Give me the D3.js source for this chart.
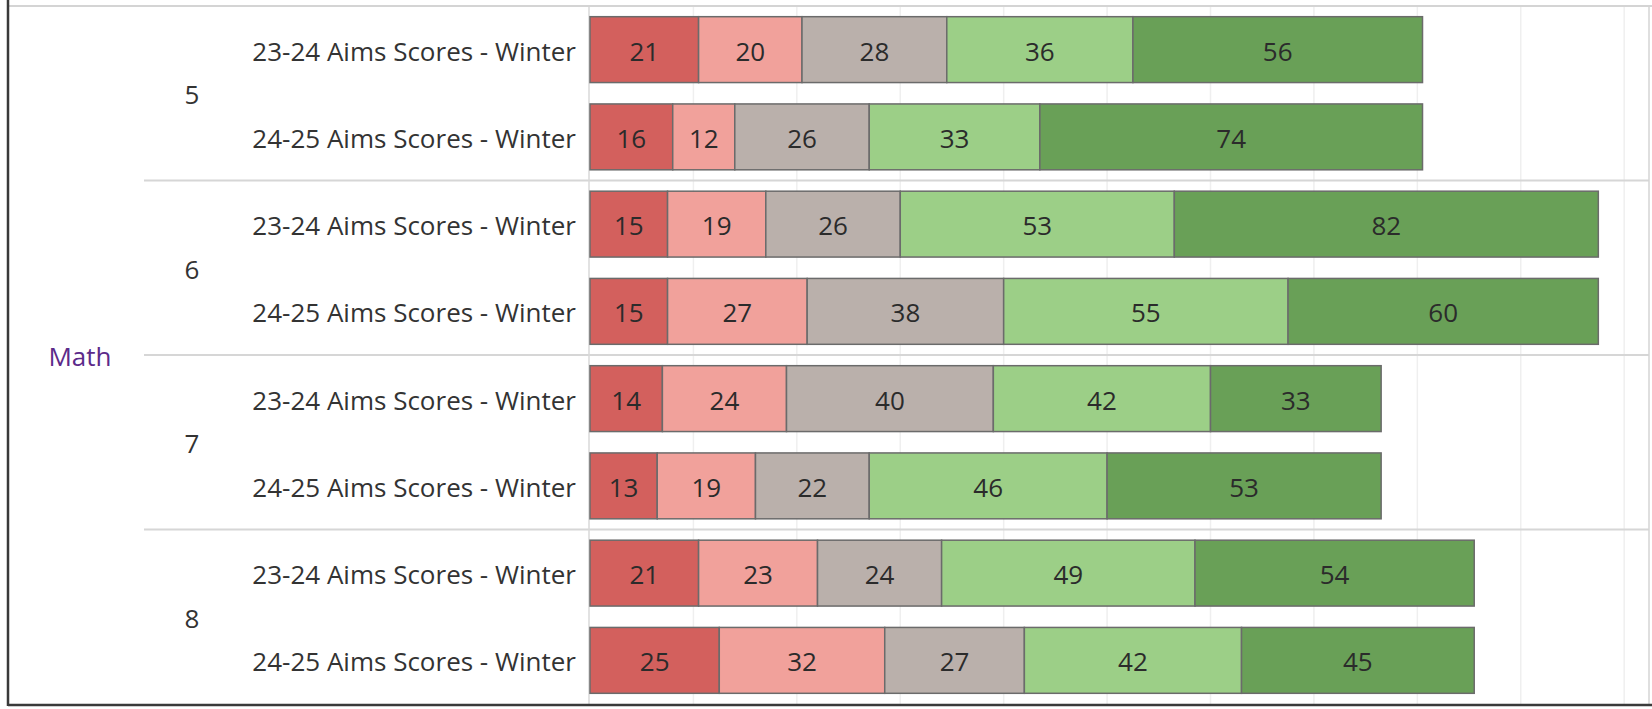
<!DOCTYPE html>
<html>
<head>
<meta charset="utf-8">
<script src="https://cdn.jsdelivr.net/npm/d3@7"></script>
<style>
  html, body { margin: 0; padding: 0; background: #fff; }
  svg text { font-family: "Open Sans", "Noto Sans", sans-serif; }
</style>
</head>
<body>
<svg id="chart" width="1652" height="709"></svg>
<script>
const subject = 'Math'
const grades = ['5', '6', '7', '8']
const periods = ['23-24 Aims Scores - Winter', '24-25 Aims Scores - Winter']
const levels = ['level1', 'level2', 'level3', 'level4', 'level5']
const levelColors = ['#d3605d', '#f1a19b', '#bab0ab', '#9ccf87', '#69a057']
const xTicks = [20, 40, 60, 80, 100, 120, 140, 160, 180, 200]

// one row per grade x period, values by level
const level1 = [21, 16, 15, 15, 14, 13, 21, 25]
const level2 = [20, 12, 19, 27, 24, 19, 23, 32]
const level3 = [28, 26, 26, 38, 40, 22, 24, 27]
const level4 = [36, 33, 53, 55, 42, 46, 49, 42]
const level5 = [56, 74, 82, 60, 33, 53, 54, 45]

const WIDTH = 1652
const HEIGHT = 709
const TOP = 6
const BOTTOM = 704
const PANEL_LEFT = 590
const PANEL_RIGHT = 1649
const FONT_SIZE = 26
const DY = '0.42em'

var rows = []
grades.forEach(function (g, gi) {
  periods.forEach(function (p, pi) {
    var i = gi * 2 + pi
    rows.push({
      grade: g, period: p,
      level1: level1[i], level2: level2[i], level3: level3[i],
      level4: level4[i], level5: level5[i]
    })
  })
})

var svg = d3.select('#chart')

var x = d3.scaleLinear().domain([0, 204.8]).range([PANEL_LEFT, PANEL_RIGHT])
var yGroup = d3.scaleBand().domain(grades).range([TOP, BOTTOM])
var yRow = d3.scaleBand().domain(periods).range([0, yGroup.bandwidth()])
  .paddingInner(0.245).paddingOuter(0.1225)
var color = d3.scaleOrdinal().domain(levels).range(levelColors)

// vertical gridlines
svg.append('g').selectAll('line')
  .data(xTicks)
  .enter().append('line')
  .attr('x1', function (d) { return x(d) })
  .attr('x2', function (d) { return x(d) })
  .attr('y1', TOP)
  .attr('y2', BOTTOM)
  .attr('stroke', '#efefef')
  .attr('stroke-width', 1.5)

// group separators
svg.append('g').selectAll('line')
  .data(grades.slice(1))
  .enter().append('line')
  .attr('x1', 144)
  .attr('x2', PANEL_RIGHT)
  .attr('y1', function (g) { return yGroup(g) })
  .attr('y2', function (g) { return yGroup(g) })
  .attr('stroke', '#d6d6d6')
  .attr('stroke-width', 2)

// panel left edge
svg.append('line')
  .attr('x1', x(0) - 1).attr('x2', x(0) - 1)
  .attr('y1', TOP).attr('y2', BOTTOM)
  .attr('stroke', '#d9d9d9').attr('stroke-width', 1.5)

// frame
svg.append('line')
  .attr('x1', 8).attr('x2', WIDTH).attr('y1', TOP).attr('y2', TOP)
  .attr('stroke', '#d4d4d4').attr('stroke-width', 2)
svg.append('line')
  .attr('x1', PANEL_RIGHT).attr('x2', PANEL_RIGHT).attr('y1', TOP).attr('y2', BOTTOM)
  .attr('stroke', '#d4d4d4').attr('stroke-width', 1.5)
svg.append('line')
  .attr('x1', 8).attr('x2', WIDTH).attr('y1', BOTTOM + 1).attr('y2', BOTTOM + 1)
  .attr('stroke', '#3a3a3a').attr('stroke-width', 2.5)
svg.append('line')
  .attr('x1', 8).attr('x2', 8).attr('y1', 0).attr('y2', BOTTOM + 2)
  .attr('stroke', '#3a3a3a').attr('stroke-width', 2.5)

// stacked bars
var series = d3.stack().keys(levels)(rows)

var rowY = function (r) { return yGroup(r.grade) + yRow(r.period) }

var layer = svg.append('g').selectAll('g')
  .data(series)
  .enter().append('g')
  .attr('fill', function (s) { return color(s.key) })

layer.selectAll('rect')
  .data(function (s) { return s })
  .enter().append('rect')
  .attr('x', function (d) { return x(d[0]) })
  .attr('y', function (d) { return rowY(d.data) })
  .attr('width', function (d) { return x(d[1]) - x(d[0]) })
  .attr('height', yRow.bandwidth())
  .attr('stroke', '#6b6b6b')
  .attr('stroke-width', 1.5)

layer.selectAll('text')
  .data(function (s) { return s })
  .enter().append('text')
  .attr('x', function (d) { return (x(d[0]) + x(d[1])) / 2 })
  .attr('y', function (d) { return rowY(d.data) + yRow.bandwidth() / 2 })
  .attr('dy', DY)
  .attr('text-anchor', 'middle')
  .attr('fill', '#2b2b2b')
  .attr('font-size', FONT_SIZE)
  .text(function (d) { return d[1] - d[0] })

// row labels
svg.append('g').selectAll('text')
  .data(rows)
  .enter().append('text')
  .attr('x', 576)
  .attr('y', function (r) { return rowY(r) + yRow.bandwidth() / 2 })
  .attr('dy', DY)
  .attr('text-anchor', 'end')
  .attr('fill', '#333')
  .attr('font-size', FONT_SIZE)
  .text(function (r) { return r.period })

// grade labels
svg.append('g').selectAll('text')
  .data(grades)
  .enter().append('text')
  .attr('x', 192)
  .attr('y', function (g) { return yGroup(g) + yGroup.bandwidth() / 2 })
  .attr('dy', DY)
  .attr('text-anchor', 'middle')
  .attr('fill', '#333')
  .attr('font-size', FONT_SIZE)
  .text(function (g) { return g })

// subject label
svg.append('text')
  .attr('x', 80)
  .attr('y', (TOP + BOTTOM) / 2)
  .attr('dy', DY)
  .attr('text-anchor', 'middle')
  .attr('fill', '#5c2a8a')
  .attr('font-size', FONT_SIZE)
  .attr('font-weight', 500)
  .text(subject)
</script>
</body>
</html>
